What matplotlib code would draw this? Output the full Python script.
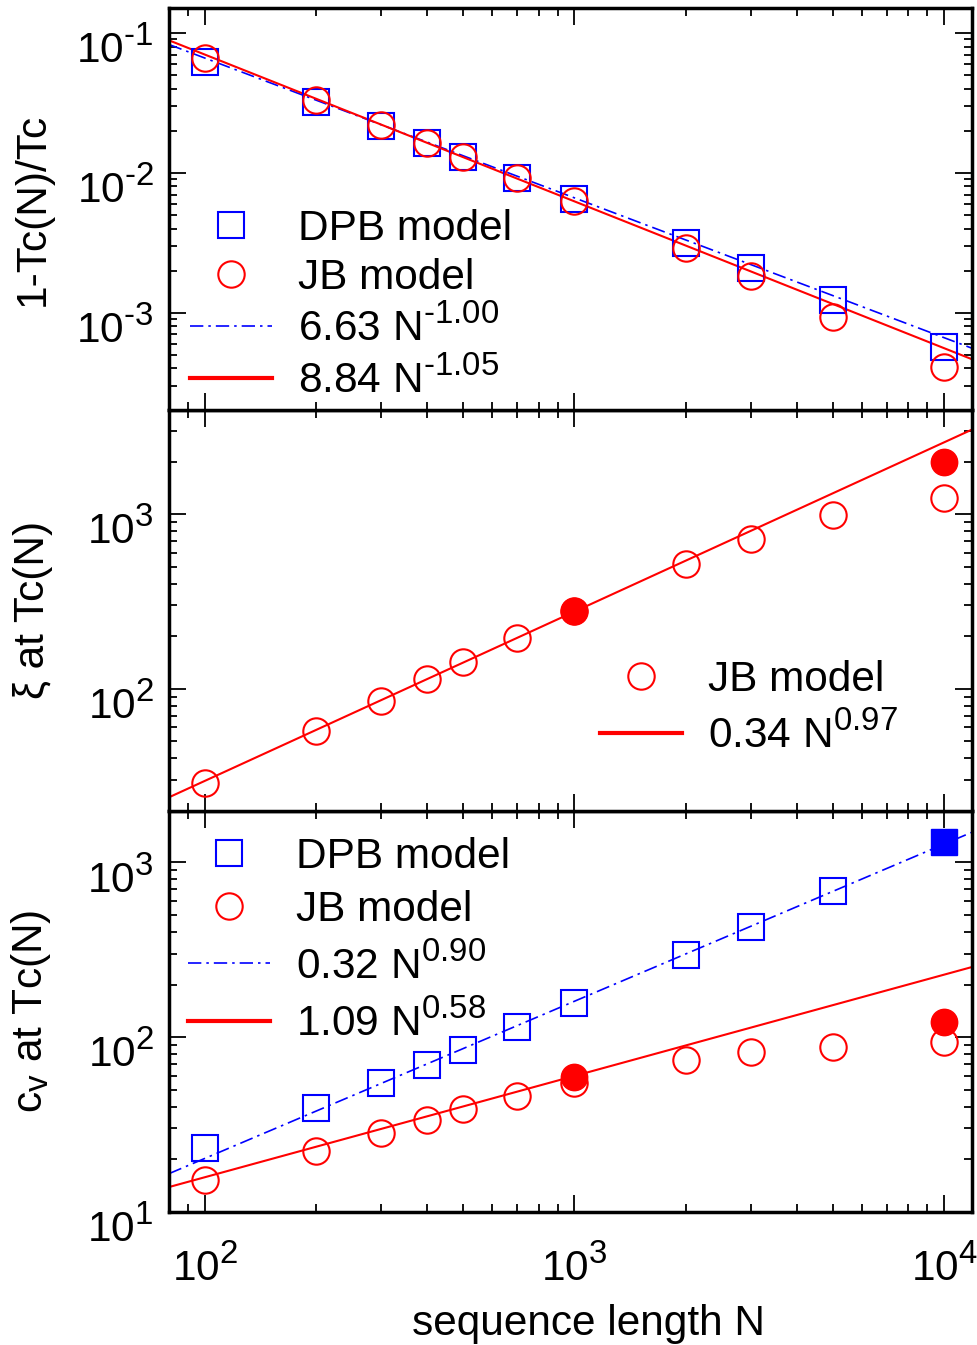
import numpy as np
import matplotlib
matplotlib.use('Agg')
import matplotlib.pyplot as plt
import matplotlib.transforms as mtrans
import matplotlib._mathtext as mathtext_internal
from matplotlib.lines import Line2D
from matplotlib.ticker import NullFormatter, LogLocator, FuncFormatter

plt.rcParams['font.family'] = ['Liberation Sans', 'DejaVu Sans']
plt.rcParams['mathtext.fontset'] = 'custom'
plt.rcParams['mathtext.rm'] = 'Liberation Sans'
plt.rcParams['mathtext.it'] = 'Liberation Sans:italic'
plt.rcParams['mathtext.bf'] = 'Liberation Sans:bold'
# exponents in the original are a bit bigger than mathtext's default
mathtext_internal.SHRINK_FACTOR = 0.78

# sequence lengths
N = [100, 200, 300, 400, 500, 700, 1000, 2000, 3000, 5000, 10000]

# panel 1: 1-Tc(N)/Tc
dpb_gap = [0.0621, 0.0322, 0.0217, 0.0164, 0.0130, 0.0092, 0.00652, 0.00316, 0.00210, 0.00124, 0.000572]
jb_gap = [0.0663, 0.0332, 0.0220, 0.0164, 0.0130, 0.0092, 0.00631, 0.00291, 0.00184, 0.000936, 0.000411]

# panel 2: xi at Tc(N)
jb_xi = [28.7, 57.4, 85.3, 113.7, 142, 195.4, 277, 518, 718, 987, 1241]
jb_xi_filled_N = [1000, 10000]
jb_xi_filled = [277, 1983]

# panel 3: c_v at Tc(N)
dpb_cv_N = [100, 200, 300, 400, 500, 700, 1000, 2000, 3000, 5000]
dpb_cv = [23.3, 39.1, 54.4, 69.3, 84.6, 114.1, 156.7, 297, 428, 690]
dpb_cv_filled_N = [10000]
dpb_cv_filled = [1303]
jb_cv = [15.1, 22.2, 28.3, 33.5, 38.6, 46.2, 54.8, 73.5, 82.0, 88.3, 94.3]
jb_cv_filled_N = [1000, 10000]
jb_cv_filled = [59.4, 121.9]

# power-law fits a*N^b
fit_gap_dpb = (6.63, -1.00)
fit_gap_jb = (8.84, -1.05)
fit_xi_jb = (0.34, 0.97)
fit_cv_dpb = (0.32, 0.90)
fit_cv_jb = (1.09, 0.58)

XLIM = (80, 11900)
BLUE = '#0000ff'
RED = '#ff0000'
FS = 30.5
MS = 19
MEW = 1.5
DASHDOT = (0, (8, 3, 1.5, 3))


def fit_line(ax, fit, **kw):
  a, b = fit
  xs = np.array(XLIM, dtype=float)
  ax.plot(xs, a*xs**b, **kw)


def log_fmt(v, pos):
  e = int(round(np.log10(v)))
  return r'$\mathdefault{10^{\text{%d}}}$' % e


def style_axes(ax, ylim, show_x):
  ax.set_xscale('log')
  ax.set_yscale('log')
  ax.set_xlim(*XLIM)
  ax.set_ylim(*ylim)
  for sp in ax.spines.values():
    sp.set_linewidth(2.5)
  ax.yaxis.set_minor_locator(LogLocator(base=10, subs=np.arange(2, 10), numticks=20))
  ax.xaxis.set_minor_locator(LogLocator(base=10, subs=np.arange(2, 10), numticks=20))
  ax.yaxis.set_major_formatter(FuncFormatter(log_fmt))
  ax.xaxis.set_major_formatter(FuncFormatter(log_fmt))
  ax.yaxis.set_minor_formatter(NullFormatter())
  ax.xaxis.set_minor_formatter(NullFormatter())
  ax.tick_params(which='both', direction='in', top=True, right=True,
                 width=1.3, labelsize=FS)
  ax.tick_params(which='major', length=12)
  ax.tick_params(which='minor', length=6)
  ax.tick_params(axis='y', pad=11)
  ax.tick_params(axis='x', pad=25)
  if not show_x:
    ax.tick_params(axis='x', labelbottom=False)


sq_open = dict(ls='none', marker='s', ms=MS, mfc='none', mec=BLUE, mew=MEW)
ci_open = dict(ls='none', marker='o', ms=MS, mfc='none', mec=RED, mew=MEW)
leg_kw = dict(frameon=False, fontsize=FS, borderpad=0, borderaxespad=0,
              handlelength=1.94, handletextpad=0.61)

fig = plt.figure(figsize=(9.78, 13.45), dpi=100)
left, width = 0.1728, 0.8211
bottom, ph = 0.0991, 0.2982
ax3 = fig.add_axes([left, bottom, width, ph])
ax2 = fig.add_axes([left, bottom + ph, width, ph])
ax1 = fig.add_axes([left, bottom + 2*ph, width, ph])

# top panel
fit_line(ax1, fit_gap_dpb, color=BLUE, lw=1.2, ls=DASHDOT)
fit_line(ax1, fit_gap_jb, color=RED, lw=1.5)
ax1.plot(N, dpb_gap, **sq_open)
ax1.plot(N, jb_gap, **ci_open)
style_axes(ax1, (2.03e-4, 0.150), False)
ax1.set_ylabel('1-Tc(N)/Tc', fontsize=FS)
h1 = [Line2D([], [], **sq_open), Line2D([], [], **ci_open),
      Line2D([], [], color=BLUE, lw=1.2, ls=DASHDOT),
      Line2D([], [], color=RED, lw=3)]
l1 = [r'DPB model', r'JB model', r'6.63 N$^{\text{-1.00}}$', r'8.84 N$^{\text{-1.05}}$']
ax1.legend(h1, l1, loc='lower left', bbox_to_anchor=(0.026, 0.02),
           labelspacing=0.2, **leg_kw)

# middle panel
fit_line(ax2, fit_xi_jb, color=RED, lw=1.5)
ax2.plot(N, jb_xi, **ci_open)
ax2.plot(jb_xi_filled_N, jb_xi_filled, ls='none', marker='o', ms=MS, color=RED)
style_axes(ax2, (20, 3975), False)
ax2.set_ylabel(r'ξ at Tc(N)', fontsize=FS)
h2 = [Line2D([], [], **ci_open), Line2D([], [], color=RED, lw=3)]
l2 = [r'JB model', r'0.34 N$^{\text{0.97}}$']
ax2.legend(h2, l2, loc='lower left', bbox_to_anchor=(0.537, 0.135),
           labelspacing=0.3, **leg_kw)

# bottom panel
fit_line(ax3, fit_cv_dpb, color=BLUE, lw=1.2, ls=DASHDOT)
fit_line(ax3, fit_cv_jb, color=RED, lw=1.5)
ax3.plot(dpb_cv_N, dpb_cv, **sq_open)
ax3.plot(dpb_cv_filled_N, dpb_cv_filled, ls='none', marker='s', ms=MS, color=BLUE)
ax3.plot(N, jb_cv, **ci_open)
ax3.plot(jb_cv_filled_N, jb_cv_filled, ls='none', marker='o', ms=MS, color=RED)
style_axes(ax3, (10, 1980), True)
ax3.set_ylabel(r'c$_{\rm v}$ at Tc(N)', fontsize=FS)
ax3.set_xlabel('sequence length N', fontsize=FS, labelpad=10)
ax3.xaxis.label.set_x(0.523)
h3 = [Line2D([], [], **sq_open), Line2D([], [], **ci_open),
      Line2D([], [], color=BLUE, lw=1.2, ls=DASHDOT),
      Line2D([], [], color=RED, lw=3)]
l3 = [r'DPB model', r'JB model', r'0.32 N$^{\text{0.90}}$', r'1.09 N$^{\text{0.58}}$']
ax3.legend(h3, l3, loc='upper left', bbox_to_anchor=(0.024, 0.935),
           labelspacing=0.32, **leg_kw)

# y tick labels sit a bit below their ticks in the original
shift = mtrans.ScaledTranslation(0, -9/72., fig.dpi_scale_trans)
for ax in (ax1, ax2, ax3):
  ax.yaxis.set_label_coords(-0.145, 0.5)
  for lab in ax.yaxis.get_majorticklabels():
    lab.set_transform(lab.get_transform() + shift)

fig.savefig('out.png', dpi=100)
